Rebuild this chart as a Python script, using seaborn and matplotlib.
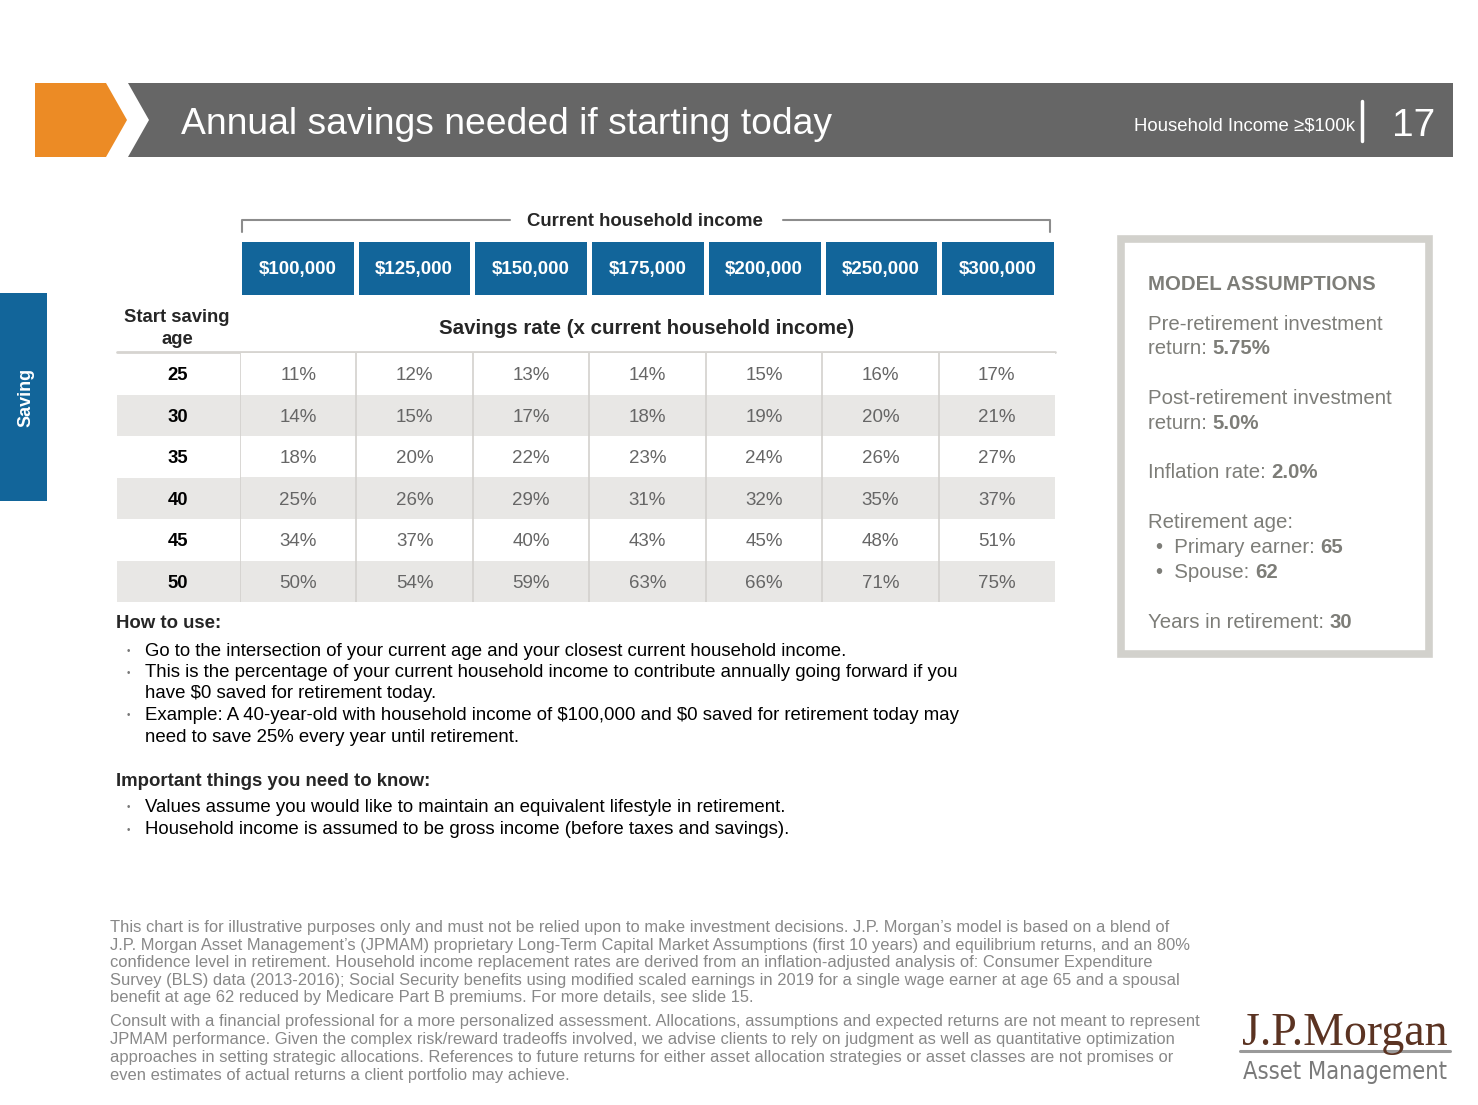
import numpy as np
import seaborn as sns
import matplotlib.pyplot as plt
from matplotlib.colors import ListedColormap
from matplotlib.patches import Rectangle, Polygon

sns.set_style("white")
plt.rcParams['font.family'] = ['Liberation Sans', 'DejaVu Sans']
plt.rcParams['text.parse_math'] = False

incomes = ["$100,000", "$125,000", "$150,000", "$175,000", "$200,000", "$250,000", "$300,000"]
ages = [25, 30, 35, 40, 45, 50]
rate_25 = [11, 12, 13, 14, 15, 16, 17]
rate_30 = [14, 15, 17, 18, 19, 20, 21]
rate_35 = [18, 20, 22, 23, 24, 26, 27]
rate_40 = [25, 26, 29, 31, 32, 35, 37]
rate_45 = [34, 37, 40, 43, 45, 48, 51]
rate_50 = [50, 54, 59, 63, 66, 71, 75]
rates = np.array([rate_25, rate_30, rate_35, rate_40, rate_45, rate_50])

how_to_use = [
    ["Go to the intersection of your current age and your closest current household income."],
    ["This is the percentage of your current household income to contribute annually going forward if you",
     "have $0 saved for retirement today."],
    ["Example: A 40-year-old with household income of $100,000 and $0 saved for retirement today may",
     "need to save 25% every year until retirement."],
]
need_to_know = [
    ["Values assume you would like to maintain an equivalent lifestyle in retirement."],
    ["Household income is assumed to be gross income (before taxes and savings)."],
]
assumptions = [
    [("Pre-retirement investment", ""), ("return: ", "5.75%")],
    [("Post-retirement investment", ""), ("return: ", "5.0%")],
    [("Inflation rate: ", "2.0%")],
    [("Retirement age:", ""), ("•  Primary earner: ", "65"), ("•  Spouse: ", "62")],
    [("Years in retirement: ", "30")],
]
footnote_1 = [
    "This chart is for illustrative purposes only and must not be relied upon to make investment decisions. J.P. Morgan\u2019s model is based on a blend of",
    "J.P. Morgan Asset Management\u2019s (JPMAM) proprietary Long-Term Capital Market Assumptions (first 10 years) and equilibrium returns, and an 80%",
    "confidence level in retirement. Household income replacement rates are derived from an inflation-adjusted analysis of: Consumer Expenditure",
    "Survey (BLS) data (2013-2016); Social Security benefits using modified scaled earnings in 2019 for a single wage earner at age 65 and a spousal",
    "benefit at age 62 reduced by Medicare Part B premiums. For more details, see slide 15.",
]
footnote_2 = [
    "Consult with a financial professional for a more personalized assessment. Allocations, assumptions and expected returns are not meant to represent",
    "JPMAM performance. Given the complex risk/reward tradeoffs involved, we advise clients to rely on judgment as well as quantitative optimization",
    "approaches in setting strategic allocations. References to future returns for either asset allocation strategies or asset classes are not promises or",
    "even estimates of actual returns a client portfolio may achieve.",
]

W, H = 1478, 1105
BLUE = "#12659a"
GREY_TXT = "#7d7d78"
STRIPE = "#e8e7e5"
VA = "center_baseline"

fig = plt.figure(figsize=(W / 100, H / 100), dpi=100)
base = fig.add_axes([0, 0, 1, 1])
base.set_xlim(0, W)
base.set_ylim(H, 0)
base.axis("off")


def px_axes(x0, y0, x1, y1):
    return fig.add_axes([x0 / W, 1 - y1 / H, (x1 - x0) / W, (y1 - y0) / H])


# banner
base.add_patch(Polygon([(35, 83), (106, 83), (127, 120), (106, 157), (35, 157)], closed=True, color="#ec8b25", lw=0))
base.add_patch(Polygon([(128, 83), (1453, 83), (1453, 157), (128, 157), (149, 120)], closed=True, color="#666666", lw=0))
base.text(181, 121, "Annual savings needed if starting today", color="white", fontsize=26.8, va=VA, ha="left")
base.text(1355, 124, "Household Income \u2265$100k", color="white", fontsize=13.4, va=VA, ha="right",
          family=["Liberation Sans", "DejaVu Sans"])
base.plot([1362, 1362], [101, 141], color="white", lw=2.5)
base.text(1414, 122, "17", color="white", fontsize=28, va=VA, ha="center")

# side tab
base.add_patch(Rectangle((0, 293), 47, 208, color=BLUE, lw=0))
base.text(26, 397, "Saving", color="white", fontsize=13, fontweight="bold", rotation=90, va="center", ha="center")

# bracket + header texts
bc = "#8c8c8c"
base.plot([242, 242, 510], [232, 220, 220], color=bc, lw=1.5)
base.plot([783, 1050, 1050], [220, 220, 232], color=bc, lw=1.5)
base.text(645, 219, "Current household income", fontsize=13.4, fontweight="bold", ha="center", va=VA)
base.text(177, 316, "Start saving", fontsize=13.3, fontweight="bold", ha="center", va=VA)
base.text(177, 337, "age", fontsize=13.3, fontweight="bold", ha="center", va=VA)
base.text(647, 327, "Savings rate (x current household income)", fontsize=14.8, fontweight="bold", ha="center", va=VA)
base.plot([117, 1055], [352, 352], color="#d6d4d0", lw=2)

# table body
top, bot = 353, 602
row_h = (bot - top) / len(ages)
for i in range(len(ages)):
    if i % 2 == 1:
        base.add_patch(Rectangle((117, top + i * row_h), 123, row_h, color=STRIPE, lw=0))

stripes = np.array([[i % 2] * len(incomes) for i in range(len(ages))])
labels = np.array([[f"{v}%" for v in row] for row in rates])
ax = px_axes(240, top, 1055, bot)
sns.heatmap(stripes, ax=ax, cmap=ListedColormap(["white", STRIPE]), vmin=0, vmax=1, cbar=False,
            annot=labels, fmt="", annot_kws=dict(fontsize=13.5, color="#666666", va=VA))
for j in range(len(incomes)):
    ax.axvline(j, color="#d3d1cd", lw=1.2)
ax.set_xticks([])
ax.set_yticks(np.arange(len(ages)) + 0.5)
ax.set_yticklabels([str(a) for a in ages], rotation=0, fontsize=13.3, fontweight="bold", ha="center",
                   va=VA, color="black")
ax.tick_params(axis="y", length=0, pad=45)
for s in ax.spines.values():
    s.set_visible(False)

# header row
hax = px_axes(239, 239, 1056, 297)
sns.heatmap(np.zeros((1, len(incomes))), ax=hax, cmap=ListedColormap([BLUE]), cbar=False,
            annot=np.array([incomes]), fmt="", linewidths=2.5, linecolor="white",
            annot_kws=dict(fontsize=13.5, color="white", fontweight="bold", va=VA))
hax.set_xticks([])
hax.set_yticks([])


# how to use
def bullets(items, y0, dy):
    y = y0
    for item in items:
        base.text(128, y + 1, "\u2022", fontsize=7, color="#777777", ha="center", va=VA)
        for line in item:
            base.text(145, y, line, fontsize=13.4, va=VA, ha="left", color="black")
            y += dy
    return y


base.text(116, 622, "How to use:", fontsize=13.4, fontweight="bold", va=VA)
bullets(how_to_use, 649, 21.5)
base.text(116, 779, "Important things you need to know:", fontsize=13.4, fontweight="bold", va=VA)
bullets(need_to_know, 805, 23)

# model assumptions box
base.add_patch(Rectangle((1121, 239), 308, 415, fill=False, ec="#d2d1cc", lw=5.5))
base.text(1148, 282, "MODEL ASSUMPTIONS", fontsize=14.7, fontweight="bold", color=GREY_TXT, va=VA)
y = 322
for group in assumptions:
    for plain, bold in group:
        x = 1148 if not plain.startswith("\u2022") else 1156
        t = base.text(x, y, plain, fontsize=14.7, color=GREY_TXT, va=VA)
        if bold:
            base.annotate(bold, xy=(1, 0), xycoords=t, fontsize=14.7, color=GREY_TXT,
                          fontweight="bold", va="bottom", ha="left")
        y += 25
    y += 24.5

# footnotes
for k, line in enumerate(footnote_1):
    base.text(110, 926 + k * 17.6, line, fontsize=11.9, color="#888888", va=VA)
for k, line in enumerate(footnote_2):
    base.text(110, 1020 + k * 18, line, fontsize=11.9, color="#888888", va=VA)

# logo
base.text(1345, 1029, "J.P.Morgan", fontsize=33, color="#5b3322", ha="center", va=VA,
          family=["Liberation Serif", "DejaVu Serif"])
base.plot([1240, 1450], [1051, 1051], color="#9a9a9a", lw=2.2)
base.text(1345, 1069, "Asset Management", fontsize=17, color="#7a7a7a", ha="center", va=VA,
          family=["DejaVu Sans", "Liberation Sans"], stretch="condensed")

fig.savefig("out.png", dpi=100)
